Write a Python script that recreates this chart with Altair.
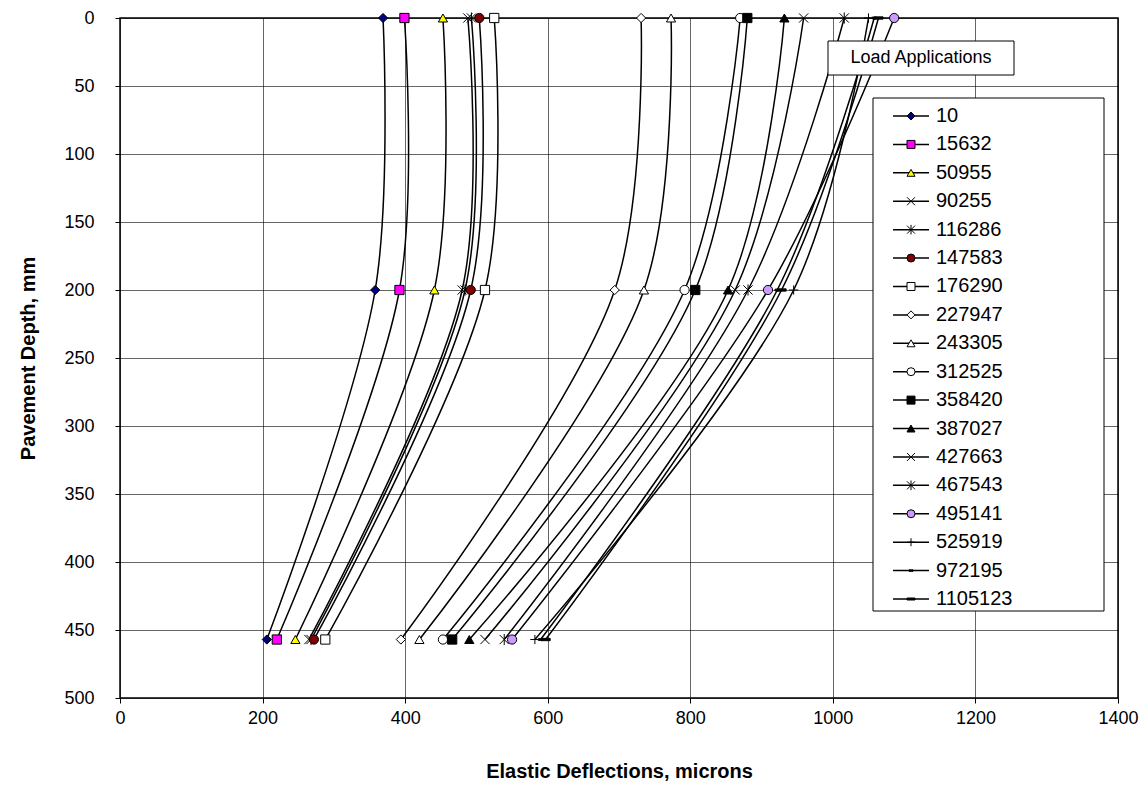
import altair as alt
import pandas as pd

# ---- data ----
series = ["10", "15632", "50955", "90255", "116286", "147583", "176290", "227947",
          "243305", "312525", "358420", "387027", "427663", "467543", "495141",
          "525919", "972195", "1105123"]
depths = [0, 200, 457]
defl_0 = [369, 399, 453, 488, 493, 504, 525, 731, 773, 870, 880, 932, 959, 1016, 1086, 1050, 1058, 1064]
defl_200 = [358, 392, 441, 480, 484, 492, 512, 694, 735, 792, 807, 853, 863, 881, 909, 945, 922, 928]
defl_457 = [206, 220, 246, 265, 268, 272, 288, 394, 420, 453, 466, 490, 512, 539, 550, 582, 590, 597]

X_SHAPE = "M-1,-1L1,1M-1,1L1,-1"
AST_SHAPE = "M-1,-1L1,1M-1,1L1,-1M0,-1.2L0,1.2"
PLUS_SHAPE = "M-1,0L1,0M0,-1L0,1"
DASH_SHAPE = "M-0.5,-0.18L0.5,-0.18L0.5,0.18L-0.5,0.18Z"
TDASH_SHAPE = "M-1,-0.25L1,-0.25L1,0.25L-1,0.25Z"

shapes = ["diamond", "square", "triangle-up", X_SHAPE, AST_SHAPE, "circle", "square",
          "diamond", "triangle-up", "circle", "square", "triangle-up", X_SHAPE, AST_SHAPE,
          "circle", PLUS_SHAPE, DASH_SHAPE, TDASH_SHAPE]
fills = ["#000080", "#FF00FF", "#FFFF00", "#000000", "#000000", "#800000", "#FFFFFF",
         "#FFFFFF", "#FFFFFF", "#FFFFFF", "#000000", "#000000", "#000000", "#000000",
         "#CC99FF", "#000000", "#000000", "#000000"]

rows = []
for i, s in enumerate(series):
    for d, v in zip(depths, [defl_0[i], defl_200[i], defl_457[i]]):
        rows.append({"series": s, "depth": d, "defl": v})
df = pd.DataFrame(rows)
leg = pd.DataFrame({"series": series})

FONT = "Liberation Sans"
shape_scale = alt.Scale(domain=series, range=shapes)
fill_scale = alt.Scale(domain=series, range=fills)

xaxis = alt.Axis(values=list(range(0, 1401, 200)), format="d", title="Elastic Deflections, microns",
                 grid=True, gridColor="#000000", gridWidth=1, gridOpacity=0.6,
                 domain=False, tickColor="#000000", tickSize=5, labelFlush=False,
                 labelFontSize=18, labelFont=FONT, labelColor="#000000", labelPadding=6,
                 titleFont=FONT, titleFontSize=20, titleFontWeight="bold",
                 titleColor="#000000", titleY=73, titleBaseline="middle")
yaxis = alt.Axis(values=list(range(0, 501, 50)), format="d", title="Pavement Depth, mm",
                 grid=True, gridColor="#000000", gridWidth=1, gridOpacity=0.6,
                 domain=False, tickColor="#000000", tickSize=5, labelFlush=False,
                 labelFontSize=18, labelFont=FONT, labelColor="#000000", labelPadding=21,
                 titleFont=FONT, titleFontSize=20, titleFontWeight="bold",
                 titleColor="#000000", titleX=-92, titleY=340, titleBaseline="middle")
xscale = alt.Scale(domain=[0, 1400], nice=False)
yscale = alt.Scale(domain=[0, 500], reverse=True, nice=False)

lines = alt.Chart(df).mark_line(color="#000000", strokeWidth=1.5, interpolate="catmull-rom").encode(
    x=alt.X("defl:Q", scale=xscale, axis=xaxis),
    y=alt.Y("depth:Q", scale=yscale, axis=yaxis),
    detail="series:N", order="depth:Q")

points = alt.Chart(df).mark_point(filled=True, stroke="#000000", strokeWidth=1, size=85,
                                  opacity=1, clip=False).encode(
    x=alt.X("defl:Q", scale=xscale, axis=xaxis),
    y=alt.Y("depth:Q", scale=yscale, axis=yaxis),
    shape=alt.Shape("series:N", scale=shape_scale, legend=None),
    fill=alt.Fill("series:N", scale=fill_scale, legend=None))

data_layer = alt.layer(lines, points)

# ---- legend (drawn as marks) ----
box_df = pd.DataFrame({"a": [0]})
leg_box = alt.Chart(box_df).mark_rect(fill="#FFFFFF", stroke="#000000", strokeWidth=1).encode(
    x=alt.value(753), x2=alt.value(984), y=alt.value(80), y2=alt.value(593))
title_box = alt.Chart(box_df).mark_rect(fill="#FFFFFF", stroke="#000000", strokeWidth=1).encode(
    x=alt.value(708), x2=alt.value(894), y=alt.value(23), y2=alt.value(57))
title_txt = alt.Chart(box_df).mark_text(font=FONT, fontSize=18, color="#000000",
                                        align="center", baseline="middle").encode(
    x=alt.value(801), y=alt.value(40), text=alt.value("Load Applications"))

ly = alt.Y("series:N", scale=alt.Scale(type="point", domain=series, range=[98, 581], padding=0),
           axis=None)
leg_rule = alt.Chart(leg).mark_rule(color="#000000", strokeWidth=1.5).encode(
    x=alt.value(773), x2=alt.value(809), y=ly)
leg_pts = alt.Chart(leg).mark_point(filled=True, stroke="#000000", strokeWidth=1, size=64,
                                    opacity=1).encode(
    x=alt.value(791), y=ly,
    shape=alt.Shape("series:N", scale=shape_scale, legend=None),
    fill=alt.Fill("series:N", scale=fill_scale, legend=None))
leg_txt = alt.Chart(leg).mark_text(font=FONT, fontSize=20, color="#000000", align="left",
                                   baseline="middle").encode(
    x=alt.value(816), y=ly, text="series:N")
legend_layer = alt.layer(leg_box, leg_rule, leg_pts, leg_txt)

chart = alt.layer(data_layer, title_box, title_txt, legend_layer).resolve_scale(
    y="independent"
).properties(
    width=998, height=680, autosize="none",
    padding={"left": 120, "top": 18, "right": 26, "bottom": 100},
    background="#FFFFFF"
).configure_view(stroke="#000000", strokeWidth=1.5)

chart.save("out.html", embed_options={"renderer": "svg", "actions": False})
